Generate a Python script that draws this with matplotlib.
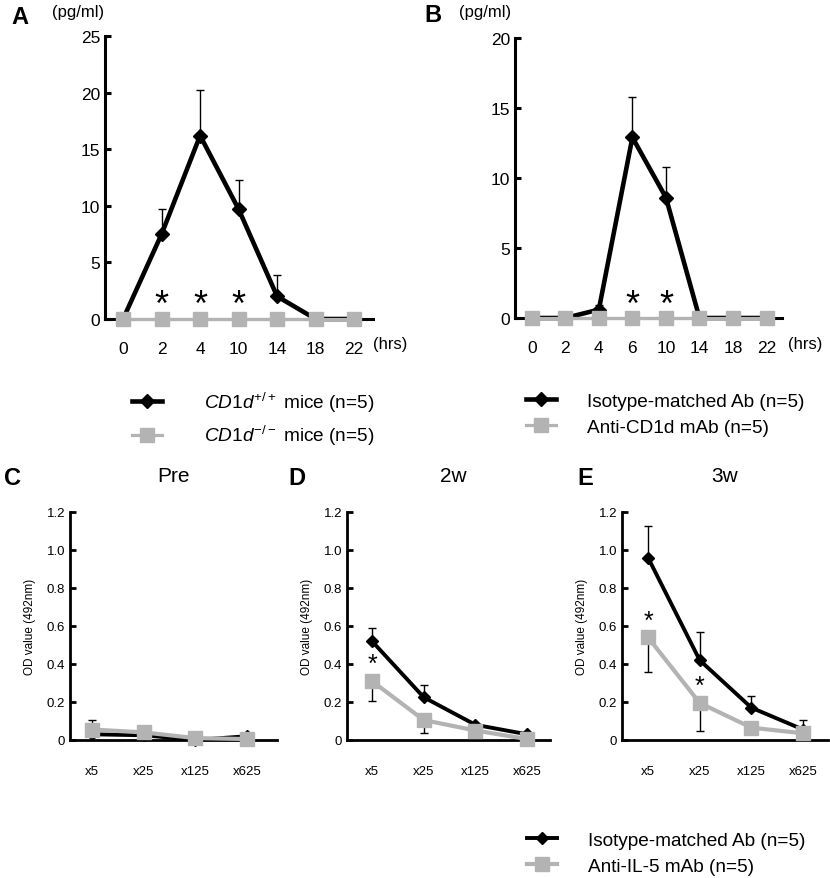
import matplotlib
matplotlib.use('Agg')
import matplotlib.pyplot as plt
import numpy as np

plt.rcParams['font.family'] = ['Liberation Sans', 'DejaVu Sans']
plt.rcParams['mathtext.fontset'] = 'custom'
plt.rcParams['mathtext.rm'] = 'Liberation Sans'
plt.rcParams['mathtext.it'] = 'Liberation Sans:italic'

GRAY = '#b3b3b3'

# panel A : serum levels, CD1d+/+ vs CD1d-/-
a_hours = ['0', '2', '4', '10', '14', '18', '22']
a_black = [0, 7.5, 16.2, 9.7, 2.0, 0, 0]
a_black_err = [0, 2.2, 4.0, 2.6, 1.9, 0, 0]
a_gray = [0, 0, 0, 0, 0, 0, 0]
a_stars = ['2', '4', '10']

# panel B : isotype vs anti-CD1d
b_hours = ['0', '2', '4', '6', '10', '14', '18', '22']
b_black = [0, 0, 0.6, 12.9, 8.6, 0, 0, 0]
b_black_err = [0, 0, 0.3, 2.9, 2.2, 0, 0, 0]
b_gray = [0, 0, 0, 0, 0, 0, 0, 0]
b_stars = ['6', '10']

# panels C-E : OD values by dilution
dilutions = ['x5', 'x25', 'x125', 'x625']
c_black = [0.03, 0.025, 0.0, 0.02]
c_black_err = [0.075, 0.05, 0.0, 0.015]
c_gray = [0.055, 0.04, 0.01, 0.005]
c_gray_err = [0.0, 0.0, 0.0, 0.0]

d_black = [0.52, 0.225, 0.08, 0.03]
d_black_err = [0.07, 0.065, 0.0, 0.0]
d_gray = [0.31, 0.105, 0.05, 0.005]
d_gray_err = [0.105, 0.07, 0.0, 0.0]
d_stars = ['x5']

e_black = [0.96, 0.42, 0.17, 0.055]
e_black_err = [0.165, 0.15, 0.06, 0.05]
e_gray = [0.54, 0.195, 0.065, 0.035]
e_gray_err = [0.18, 0.15, 0.0, 0.0]
e_stars = ['x5', 'x25']

W, H = 830, 879
fig = plt.figure(figsize=(W / 100, H / 100), dpi=100)


def px_axes(left, top, right, bottom):
    return fig.add_axes([left / W, 1 - bottom / H, (right - left) / W, (bottom - top) / H])


def style_axes(ax, lw):
    for s in ['top', 'right']:
        ax.spines[s].set_visible(False)
    for s in ['left', 'bottom']:
        ax.spines[s].set_linewidth(lw)
    ax.tick_params(axis='y', direction='in', length=4, width=lw)
    ax.tick_params(axis='x', length=0)


def draw_series(ax, cats, black, black_err, gray, gray_err, lw_b, lw_g, ms_b, ms_g):
    x = np.arange(len(cats))
    ax.errorbar(x, black, yerr=[np.zeros(len(black)), black_err], fmt='none',
                ecolor='black', elinewidth=1.0, capsize=3, capthick=1.0, zorder=2)
    if gray_err is not None:
        # gray error bars point down
        ax.errorbar(x, gray, yerr=[gray_err, np.zeros(len(gray))], fmt='none',
                    ecolor='black', elinewidth=1.0, capsize=3, capthick=1.0, zorder=2)
    hb, = ax.plot(x, black, color='black', lw=lw_b, marker='D', ms=ms_b, zorder=3, clip_on=False)
    hg, = ax.plot(x, gray, color=GRAY, lw=lw_g, marker='s', ms=ms_g, zorder=4, clip_on=False)
    ax.set_xticks(x)
    ax.set_xticklabels(cats)
    return hb, hg


# ---------- A ----------
axA = px_axes(105, 37, 373, 320)
hA = draw_series(axA, a_hours, a_black, a_black_err, a_gray, None, 3.3, 2.3, 7, 9.5)
axA.set_ylim(0, 25)
axA.set_xlim(-0.47, 6.49)
axA.set_yticks([0, 5, 10, 15, 20, 25])
style_axes(axA, 2.2)
axA.tick_params(labelsize=12.5)
axA.tick_params(axis='x', pad=16)
for s in a_stars:
    axA.text(a_hours.index(s), -0.38, '*', ha='center', va='bottom', fontsize=26)
fig.text(20 / W, 1 - 17 / H, 'A', fontsize=17, fontweight='bold', ha='center', va='center')
fig.text(78 / W, 1 - 13 / H, '(pg/ml)', fontsize=12, ha='center', va='center')
fig.text(390 / W, 1 - 344 / H, '(hrs)', fontsize=12, ha='center', va='center')

# ---------- B ----------
axB = px_axes(515, 39, 782, 319)
hB = draw_series(axB, b_hours, b_black, b_black_err, b_gray, None, 3.3, 2.3, 7, 9.5)
axB.set_ylim(0, 20)
axB.set_xlim(-0.5, 7.46)
axB.set_yticks([0, 5, 10, 15, 20])
style_axes(axB, 2.2)
axB.tick_params(labelsize=12.5)
axB.tick_params(axis='x', pad=16)
for s in b_stars:
    axB.text(b_hours.index(s), -0.33, '*', ha='center', va='bottom', fontsize=26)
fig.text(433 / W, 1 - 15 / H, 'B', fontsize=17, fontweight='bold', ha='center', va='center')
fig.text(485 / W, 1 - 12 / H, '(pg/ml)', fontsize=12, ha='center', va='center')
fig.text(805 / W, 1 - 344 / H, '(hrs)', fontsize=12, ha='center', va='center')

# ---------- C, D, E ----------
bottom_panels = [
    (70, 277, 92, c_black, c_black_err, c_gray, c_gray_err, [], 'C', 'Pre', 12, 173),
    (347, 550, 372, d_black, d_black_err, d_gray, d_gray_err, d_stars, 'D', '2w', 297, 453),
    (622, 828, 648, e_black, e_black_err, e_gray, e_gray_err, e_stars, 'E', '3w', 585, 725),
]
handles_bottom = None
for left, right, x0, bl, ble, gr, gre, stars, letter, title, lx, tx in bottom_panels:
    ax = px_axes(left, 513, right, 741)
    h = draw_series(ax, dilutions, bl, ble, gr, gre, 2.8, 3.0, 6, 9.5)
    handles_bottom = h
    ax.set_ylim(0, 1.2)
    step = 51.7
    ax.set_xlim((left - x0) / step, (right - x0) / step)
    ax.set_yticks([0, 0.2, 0.4, 0.6, 0.8, 1.0, 1.2])
    ax.set_yticklabels(['0', '0.2', '0.4', '0.6', '0.8', '1.0', '1.2'])
    style_axes(ax, 2.0)
    ax.tick_params(labelsize=9.5)
    ax.tick_params(axis='x', pad=18)
    ax.set_ylabel('OD value (492nm)', fontsize=8.5, labelpad=8)
    for s in stars:
        i = dilutions.index(s)
        ax.text(i, gr[i] + 0.025, '*', ha='center', va='bottom', fontsize=18)
    fig.text(lx / W, 1 - 479 / H, letter, fontsize=17, fontweight='bold', ha='center', va='center')
    fig.text(tx / W, 1 - 477 / H, title, fontsize=15, ha='center', va='center')

# ---------- legends ----------
leg_kw = dict(frameon=False, numpoints=1, handlelength=1.6,
              loc='upper left', borderaxespad=0, fontsize=13.7)
fig.legend(hA, [r'$\mathit{CD1d}^{+/+}$ mice (n=5)', r'$\mathit{CD1d}^{-/-}$ mice (n=5)'],
           bbox_to_anchor=(124 / W, 1 - 383 / H), labelspacing=0.5, handletextpad=2.2, **leg_kw)
fig.legend(hB, ['Isotype-matched Ab (n=5)', 'Anti-CD1d mAb (n=5)'],
           bbox_to_anchor=(518 / W, 1 - 386 / H), labelspacing=0.45, handletextpad=1.6, **leg_kw)
fig.legend(handles_bottom, ['Isotype-matched Ab (n=5)', 'Anti-IL-5 mAb (n=5)'],
           bbox_to_anchor=(519 / W, 1 - 825 / H), labelspacing=0.45, handletextpad=1.6, **leg_kw)

fig.savefig('out.png', dpi=100)
